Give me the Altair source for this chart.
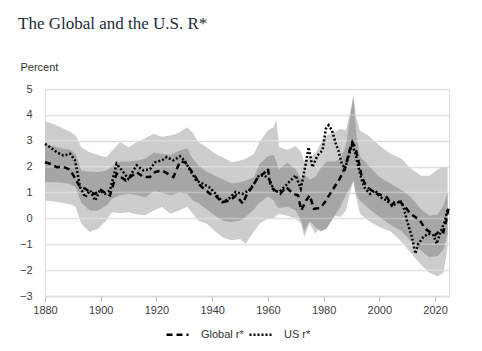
import altair as alt
import pandas as pd

TITLE = "The Global and the U.S. R*"

# Band grid years
band_years = [1880, 1883, 1886, 1889, 1891, 1893, 1896, 1899, 1902, 1904, 1907, 1910, 1913, 1916,
              1919, 1922, 1925, 1928, 1931, 1933, 1935, 1938, 1941, 1944, 1947, 1950, 1952, 1955,
              1957, 1960, 1962, 1963, 1964, 1967, 1970, 1972, 1973, 1975, 1977, 1979, 1981, 1984,
              1986, 1988, 1989.5, 1990.7, 1991.7, 1993, 1996, 2000, 2004, 2008, 2011, 2015, 2018,
              2021, 2023, 2024.5]
outer_hi = [3.76, 3.65, 3.5, 3.35, 3.2, 2.75, 2.56, 2.45, 2.36, 2.6, 2.95, 2.75, 2.95, 3.1,
            3.27, 3.15, 3.2, 3.3, 3.52, 3.3, 2.95, 2.75, 2.5, 2.35, 2.17, 2.24, 2.3, 2.5,
            2.95, 3.4, 3.52, 3.81, 2.75, 2.65, 2.8, 2.56, 2.2, 2.35, 2.5, 2.9, 3.2, 3.35,
            3.45, 3.4, 4.1, 4.75, 3.9, 3.4, 3.2, 2.82, 2.5, 2.3, 1.95, 1.65, 1.65,
            1.9, 2.0, 2.0]
outer_lo = [0.69, 0.65, 0.6, 0.55, 0.45, -0.2, -0.53, -0.4, -0.08, 0.24, 0.2, 0.24, 0.15, 0.12,
            0.3, 0.44, 0.18, 0.3, 0.44, 0.2, -0.08, -0.2, -0.5, -0.75, -0.85, -0.8, -0.98, -0.5,
            -0.2, 0.0, 0.0, 0.1, 0.18, 0.1, 0.0, -0.2, -0.72, -0.2, -0.59, -0.3, -0.3, 0.1,
            0.05, 0.3, 1.0, 1.45, 0.8, 0.2, -0.08, -0.33, -0.5, -0.9, -1.3, -1.8, -2.1,
            -2.25, -2.1, -1.1]
inner_hi = [2.85, 2.8, 2.7, 2.65, 2.5, 1.85, 1.8, 1.79, 1.85, 2.0, 2.2, 2.2, 2.24, 2.3,
            2.55, 2.5, 2.45, 2.6, 2.7, 2.3, 2.05, 1.8, 1.65, 1.5, 1.35, 1.4, 1.45, 1.6,
            2.1, 2.4, 2.45, 2.2, 1.9, 2.15, 1.9, 1.5, 1.7, 1.5, 1.6, 1.95, 2.2, 2.2,
            2.3, 2.8, 3.9, 4.7, 3.3, 2.4, 2.05, 1.6, 1.35, 1.1, 0.85, 0.35, 0.1,
            0.15, 0.5, 1.0]
inner_lo = [1.4, 1.4, 1.38, 1.34, 1.2, 0.6, 0.3, 0.3, 0.5, 0.75, 0.9, 0.95, 0.9, 0.82,
            1.05, 1.0, 0.89, 1.0, 0.95, 0.7, 0.58, 0.35, 0.1, -0.1, -0.14, -0.08, 0.05, 0.35,
            0.6, 0.85, 0.7, 0.5, 0.4, 0.45, 0.3, -0.1, -0.5, -0.1, -0.35, -0.5, -0.4, 0.1,
            0.45, 0.9, 1.2, 1.45, 0.9, 0.69, 0.4, 0.05, -0.25, -0.5, -0.85, -1.25, -1.5,
            -1.45, -1.2, -0.6]

global_years = [1880, 1881.8, 1884.2, 1886.6, 1889, 1890.5, 1892.6, 1894.4, 1896.2, 1898, 1899.7,
                1901.5, 1903.3, 1905.7, 1907.5, 1909, 1912.9, 1915.3, 1917.7, 1919.5, 1922, 1926.1,
                1928.5, 1930.3, 1932.1, 1934, 1935.7, 1937, 1939.2, 1941, 1943.5, 1946.4, 1948.6,
                1951, 1952.5, 1954, 1956.5, 1958.5, 1960, 1961, 1964.4, 1966.6, 1969, 1970.8,
                1972, 1973.7, 1975, 1976.5, 1978.7, 1980.5, 1982.3, 1984.1, 1985.9, 1987.7,
                1989.5, 1990.3, 1991.3, 1992.5, 1993.7, 1995.5, 1997.3, 1999.1, 2000.9, 2002.7,
                2004.5, 2005.7, 2007.5, 2009.3, 2011.1, 2012.9, 2014.6, 2016.4, 2018.2, 2020,
                2021.8, 2023, 2024, 2024.8]
global_r = [2.17, 2.11, 1.98, 1.99, 1.88, 1.6, 1.21, 1.15, 1.0, 0.95, 1.12,
            1.0, 0.89, 1.73, 1.58, 1.47, 1.79, 1.6, 1.6, 1.79, 1.85, 1.6,
            2.2, 2.17, 1.9, 1.6, 1.27, 1.15, 0.95, 0.89, 0.63, 0.69, 0.89,
            0.57, 0.95, 1.15, 1.6, 1.73, 1.92, 1.21, 0.95, 1.21, 0.95, 0.89,
            0.31, 0.69, 0.89, 0.37, 0.4, 0.63, 0.95, 1.25, 1.55, 1.98,
            2.69, 2.95, 2.75, 2.24, 1.6, 1.21, 1.08, 0.95, 0.89, 0.82,
            0.5, 0.69, 0.63, 0.44, 0.18, 0.05, -0.08, -0.4, -0.53, -0.65,
            -0.46, -0.53, -0.08, 0.37]

us_years = [1880, 1881.8, 1884.2, 1886.6, 1889, 1890.8, 1892.6, 1894.4, 1896.2, 1898, 1899.7,
            1901.5, 1903.3, 1905.7, 1908.1, 1909.9, 1912.9, 1915.3, 1917.7, 1919.5, 1921.9,
            1923.7, 1926.1, 1928.5, 1930.3, 1932.1, 1934.2, 1936.6, 1938.9, 1941.3, 1943.7,
            1946, 1948.4, 1950.8, 1953.2, 1955, 1956.8, 1958.6, 1960.4, 1962.2, 1964, 1966.4,
            1968.2, 1970, 1971.8, 1973.6, 1974.6, 1976, 1977.8, 1979.6, 1980.8, 1981.8, 1983,
            1984.4, 1985.3, 1986.5, 1987.7, 1988.9, 1990.1, 1991.3, 1992.5, 1993.7, 1994.9,
            1996.7, 1998.5, 2000.3, 2002.7, 2004.5, 2006.3, 2007.5, 2008.7, 2009.9, 2011.7,
            2012.9, 2014, 2015.8, 2017.6, 2019.4, 2020.6, 2021.8, 2023.6, 2024.5]
us_r = [2.88, 2.75, 2.56, 2.43, 2.5, 2.24, 1.21, 0.82, 1.08, 0.69, 1.08,
        0.95, 1.08, 2.11, 1.79, 1.53, 2.05, 1.85, 1.9, 2.17, 2.24,
        2.37, 2.24, 2.4, 2.2, 1.85, 1.47, 1.34, 1.21, 0.95, 0.63,
        0.76, 1.02, 0.95, 1.08, 1.34, 1.66, 1.66, 1.53, 1.08, 1.02, 1.27,
        1.47, 1.66, 1.15, 2.11, 2.75, 1.98, 2.43, 2.63, 3.46, 3.6, 3.4,
        2.88, 2.63, 2.11, 1.92, 2.37, 2.82, 2.56, 1.98, 1.47, 1.15,
        0.95, 1.08, 0.82, 0.69, 0.5, 0.57, 0.69, 0.44, -0.08, -0.72,
        -1.36, -0.98, -0.72, -0.59, -0.65, -0.98, -0.59, -0.08, 0.37]

series_names = ["Global r*", "US r*"]
x_ticks = [1880, 1900, 1920, 1940, 1960, 1980, 2000, 2020]
y_ticks = [-3, -2, -1, 0, 1, 2, 3, 4, 5]

FONT = "Liberation Sans"

outer_df = pd.DataFrame({"year": band_years, "lo": outer_lo, "hi": outer_hi})
inner_df = pd.DataFrame({"year": band_years, "lo": inner_lo, "hi": inner_hi})
lines_df = pd.concat([
    pd.DataFrame({"year": global_years, "value": global_r, "series": series_names[0]}),
    pd.DataFrame({"year": us_years, "value": us_r, "series": series_names[1]}),
], ignore_index=True)
grid_df = pd.DataFrame({"v": y_ticks})
title_df = pd.DataFrame({"t": [TITLE]})

xscale = alt.Scale(domain=[1880, 2025], nice=False, zero=False)
yscale = alt.Scale(domain=[-3, 5], nice=False, zero=False)

x_axis = alt.Axis(values=x_ticks, tickCount=30, format="d", grid=False, domain=True,
                  domainColor="#d4d4d4", domainWidth=1.5, ticks=True, tickColor="#bdbdbd",
                  tickSize=5, labelFont=FONT, labelFontSize=11, labelColor="#404040",
                  labelPadding=3, labelFlush=False, labelOverlap=False, title=None)
y_axis = alt.Axis(values=y_ticks, tickCount=30, format="d", grid=True, gridColor="#d9d9d9",
                  gridWidth=1.5, domain=False, ticks=False, labelFont=FONT, labelFontSize=11,
                  labelColor="#404040", labelPadding=13, labelOverlap=False, labelFlush=False,
                  title="Percent", titleAngle=0, titleAlign="left",
                  titleBaseline="alphabetic", titleX=-25, titleY=-19, titleFont=FONT,
                  titleFontSize=11, titleFontWeight="normal", titleColor="#333333")

outer = alt.Chart(outer_df).mark_area(color="#cdcdcd").encode(
    x=alt.X("year:Q", scale=xscale, axis=x_axis),
    y=alt.Y("lo:Q", scale=yscale, axis=y_axis),
    y2="hi:Q",
)
inner = alt.Chart(inner_df).mark_area(color="#a6a6a6").encode(
    x=alt.X("year:Q", scale=xscale, axis=x_axis),
    y=alt.Y("lo:Q", scale=yscale, axis=y_axis),
    y2="hi:Q",
)
grid_overlay = alt.Chart(grid_df).mark_rule(color="white", opacity=0.3, strokeWidth=1.5).encode(
    y=alt.Y("v:Q", scale=yscale, axis=y_axis),
)
lines = alt.Chart(lines_df).mark_line(strokeWidth=2.5, strokeCap="butt", color="black").encode(
    x=alt.X("year:Q", scale=xscale, axis=x_axis),
    y=alt.Y("value:Q", scale=yscale, axis=y_axis),
    strokeDash=alt.StrokeDash(
        "series:N",
        scale=alt.Scale(domain=series_names, range=[[6, 4], [2, 2]]),
        legend=alt.Legend(title=None, orient="none", legendX=120, legendY=233,
                          direction="horizontal", symbolType="stroke", symbolSize=484,
                          symbolStrokeWidth=2.5, symbolStrokeColor="black",
                          labelFont=FONT, labelFontSize=11, labelColor="#333333",
                          labelOffset=11, columnPadding=0, padding=0),
    ),
)
title = alt.Chart(title_df).mark_text(
    align="left", baseline="alphabetic", font="Liberation Serif", fontSize=17, color="#1c2b39"
).encode(text="t:N", x=alt.value(-27), y=alt.value(-60))

chart = alt.layer(outer, inner, grid_overlay, lines, title).properties(
    width=404, height=207, autosize="none",
    padding={"left": 45, "top": 89, "right": 33, "bottom": 55},
).configure_view(stroke=None).configure(background="white")

chart.save("out.html", embed_options={"renderer": "svg", "actions": False})
